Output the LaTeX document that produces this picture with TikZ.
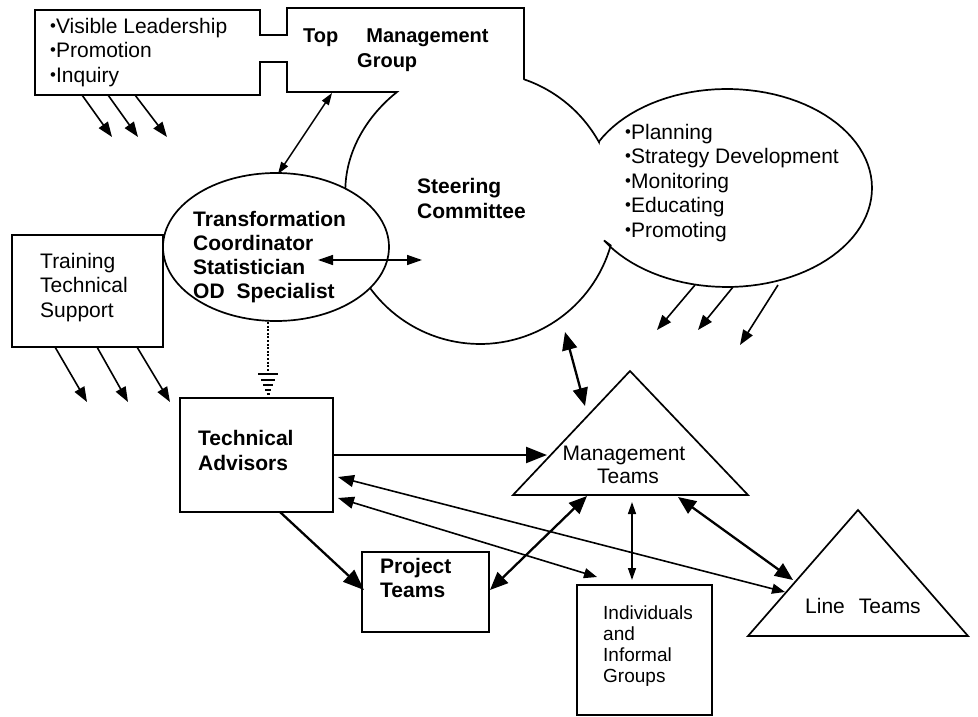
\documentclass[tikz,border=0pt]{standalone}
\usepackage{fontspec}
\setmainfont{Liberation Sans}
\usetikzlibrary{arrows.meta,shapes.geometric}
\newcommand\bul{\raisebox{0.15ex}{\scalebox{0.8}{\textbullet}}}
\tikzset{
 outl/.style={draw, line width=1.7pt, fill=white, line join=miter},
 boxn/.style={draw, line width=1.7pt, fill=white, rectangle, inner sep=0pt},
 txt/.style={inner sep=0pt, anchor=base west, align=left, font=\fontsize{21}{24.5}\selectfont},
 txtb/.style={txt, font=\fontsize{21}{24.5}\selectfont\bfseries},
 garr/.style={line width=1.6pt, -{Triangle[length=15pt,width=11pt]}},
 bigarr/.style={line width=2.3pt, -{Triangle[length=21pt,width=16pt]}},
 bigdbl/.style={line width=2.3pt, {Triangle[length=18pt,width=15pt]}-{Triangle[length=18pt,width=15pt]}},
 thindbl/.style={line width=1.4pt, {Triangle[length=12pt,width=8pt]}-{Triangle[length=12pt,width=8pt]}},
 longdbl/.style={line width=1.6pt, {Triangle[length=16pt,width=12pt]}-{Triangle[length=13pt,width=10pt]}},
 stripe/.style={line width=1.5pt},
}
\begin{document}
\begin{tikzpicture}[x=1pt,y=-1pt]
\useasboundingbox (0,0) rectangle (978,717);
\fill[white] (0,0) rectangle (978,717);

% merged outline: left box, neck, top management box, steering circle, planning ellipse
\path[outl] (35,10) -- (260,10) -- (260,35) -- (287,35) -- (287,8) -- (524,8) -- (524,79)
  -- plot[domain=-71:-29,samples=30] ({480+136*cos(\x)},{208+136*sin(\x)})
  -- plot[domain=208:508,samples=90] ({727+145*cos(\x)},{188+99*sin(\x)})
  -- plot[domain=16:188,samples=70] ({480+136*cos(\x)},{208+136*sin(\x)})
  .. controls (346,150) and (368,115) .. (397,92)
  -- (287,92) -- (287,62) -- (260,62) -- (260,95) -- (35,95) -- cycle;

% transformation ellipse
\node[draw, fill=white, ellipse, line width=1.7pt, minimum width=226pt, minimum height=148pt, inner sep=0pt] (tcell) at (276,247) {};

% boxes
\node[boxn, minimum width=151pt, minimum height=112pt] (train) at (87.5,291) {};
\node[boxn, minimum width=153pt, minimum height=114pt] (ta) at (256.5,455) {};
\node[boxn, minimum width=127pt, minimum height=80pt] (pt) at (425.5,592) {};
\node[boxn, minimum width=135pt, minimum height=130pt] (ind) at (644.5,650) {};

% triangles
\coordinate (mtL) at (513,495); \coordinate (mtR) at (748,495); \coordinate (mtT) at (630,371);
\draw[line width=1.7pt, fill=white, line join=miter] (mtL) -- (mtT) -- (mtR) -- cycle;
\coordinate (ltL) at (748,636); \coordinate (ltR) at (968,636); \coordinate (ltT) at (858,510);
\draw[line width=1.7pt, fill=white, line join=miter] (ltL) -- (ltT) -- (ltR) -- cycle;

% texts (multi-line nodes are placed by the baseline of their last line)
\node[txt] (lbtxt) at (50,82) {\bul Visible Leadership\\\bul Promotion\\\bul Inquiry};
\node[txtb, font=\fontsize{20}{24}\selectfont\bfseries] (tmg1) at (303,43) {Top\hspace{28pt}Management};
\node[txtb, font=\fontsize{20}{24}\selectfont\bfseries] (tmg2) at (357,68) {Group};
\node[txtb, font=\fontsize{21}{25}\selectfont\bfseries] (steer) at (417,218) {Steering\\Committee};
\node[txt] (plan) at (625,237) {\bul Planning\\\bul Strategy Development\\\bul Monitoring\\\bul Educating\\\bul Promoting};
\node[txtb, font=\fontsize{21}{23.8}\selectfont\bfseries] (tctxt) at (193,298) {Transformation\\Coordinator\\Statistician\\OD\hspace{12pt}Specialist};
\node[txt] (trtxt) at (40,317) {Training\\Technical\\Support};
\node[txtb, font=\fontsize{21}{25}\selectfont\bfseries] (tatxt) at (198,470) {Technical\\Advisors};
\node[txtb, font=\fontsize{21}{24}\selectfont\bfseries] (pttxt) at (380,597) {Project\\Teams};
\node[txt, anchor=base, align=center, font=\fontsize{21}{23}\selectfont] (mttxt) at (624,483) {Management\\\hspace{8pt}Teams};
\node[txt, font=\fontsize{19}{20.7}\selectfont] (indtxt) at (603,682) {Individuals\\and\\Informal\\Groups};
\node[txt] (lttxt) at (805,613) {Line\hspace{14pt}Teams};

% group arrows from top-left box
\foreach \sx/\ex [count=\i] in {82/112,108/138,135/167}{
  \coordinate (lbs\i) at (\sx,95); \coordinate (lbe\i) at (\ex,137);
  \draw[garr] (lbs\i) -- (lbe\i);}
% group arrows from training box
\foreach \sx/\ex [count=\i] in {55/87,97/128,137/170}{
  \coordinate (trs\i) at (\sx,347); \coordinate (tre\i) at (\ex,402);
  \draw[garr] (trs\i) -- (tre\i);}
% group arrows from planning ellipse
\coordinate (pls1) at (695,285); \coordinate (ple1) at (657,330);
\coordinate (pls2) at (733,287); \coordinate (ple2) at (698,330);
\coordinate (pls3) at (778,285); \coordinate (ple3) at (740,345);
\foreach \i in {1,2,3}{\draw[garr] (pls\i) -- (ple\i);}

% top management <-> transformation
\coordinate (tmgb) at (332,93); \coordinate (tct) at (278,174);
\draw[thindbl] (tmgb) -- (tct);
% transformation <-> steering
\coordinate (tcin) at (318,260); \coordinate (stin) at (422,260);
\draw[thindbl, {Triangle[length=15pt,width=10pt]}-{Triangle[length=15pt,width=10pt]}] (tcin) -- (stin);

% dotted link transformation -> technical advisors
\coordinate (tcb) at (268,322); \coordinate (gnd) at (268,372);
\draw[line width=2.4pt, dash pattern=on 2pt off 1.6pt] (tcb) -- (gnd);
\draw[stripe] ([xshift=-10pt,yshift=-2pt]gnd) -- ([xshift=10pt,yshift=-2pt]gnd);
\draw[stripe] ([xshift=-7pt,yshift=-8pt]gnd) -- ([xshift=7pt,yshift=-8pt]gnd);
\draw[stripe] ([xshift=-5pt,yshift=-13pt]gnd) -- ([xshift=5pt,yshift=-13pt]gnd);
\draw[stripe] ([xshift=-3pt,yshift=-18pt]gnd) -- ([xshift=3pt,yshift=-18pt]gnd);
\draw[stripe] ([xshift=-1.5pt,yshift=-22pt]gnd) -- ([xshift=1.5pt,yshift=-22pt]gnd);

% steering <-> management teams
\coordinate (stb) at (565,332); \coordinate (mtl) at (585,406);
\draw[bigdbl] (stb) -- (mtl);
% technical advisors -> management teams
\coordinate (tae) at (333,455); \coordinate (mtw) at (547,455);
\draw[bigarr] (tae) -- (mtw);
% technical advisors -> project teams
\coordinate (tab) at (280,512); \coordinate (ptw) at (364,590);
\draw[bigarr] (tab) -- (ptw);
% management teams <-> project teams
\coordinate (mtb1) at (587,496); \coordinate (pte) at (490,590);
\draw[bigdbl] (mtb1) -- (pte);
% management teams <-> individuals
\coordinate (mtb2) at (632,502); \coordinate (indt) at (632,580);
\draw[thindbl] (mtb2) -- (indt);
% management teams <-> line teams
\coordinate (mtb3) at (678,497); \coordinate (ltw1) at (793,580);
\draw[bigdbl] (mtb3) -- (ltw1);
% technical advisors <-> line teams
\coordinate (tae1) at (338,477); \coordinate (ltw2) at (785,592);
\draw[longdbl] (tae1) -- (ltw2);
% technical advisors <-> individuals
\coordinate (tae2) at (338,498); \coordinate (indnw) at (597,577);
\draw[longdbl] (tae2) -- (indnw);
\end{tikzpicture}
\end{document}
